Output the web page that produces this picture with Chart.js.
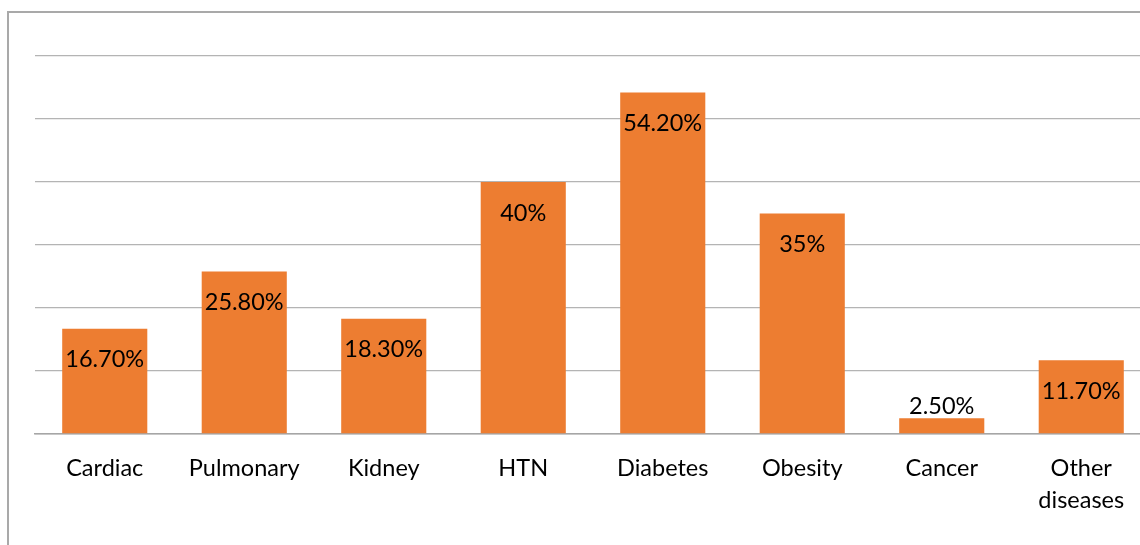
<!DOCTYPE html>
<html>
<head>
<meta charset="utf-8">
<script src="https://cdn.jsdelivr.net/npm/chart.js@4"></script>
<style>
  html, body { margin: 0; padding: 0; background: #fff; overflow: hidden; }
  #wrap { position: relative; width: 1140px; height: 545px; overflow: hidden; }
  #frame { position: absolute; left: 7px; top: 11px; width: 1200px; height: 600px;
           border-left: 2px solid #a9a9a9; border-top: 2px solid #a9a9a9; }
  #box { position: absolute; left: 0; top: 0; width: 1160px; height: 545px; }
</style>
</head>
<body>
<div id="wrap">
  <div id="frame"></div>
  <div id="box"><canvas id="chart"></canvas></div>
</div>
<script>
// Datos del gráfico
const categories = ['Cardiac', 'Pulmonary', 'Kidney', 'HTN', 'Diabetes', 'Obesity', 'Cancer', ['Other', 'diseases']];
const values = [16.7, 25.8, 18.3, 40, 54.2, 35, 2.5, 11.7];
const valueLabels = ['16.70%', '25.80%', '18.30%', '40%', '54.20%', '35%', '2.50%', '11.70%'];
const yTicks = [0, 10, 20, 30, 40, 50, 60];

const fontFamily = 'Lato, "Open Sans", sans-serif';
const fontSize = 23.5;

// Etiquetas de datos dentro de la barra (arriba si la barra es muy corta)
const barLabels = {
    id: 'barLabels',
    afterDatasetsDraw(chart) {
        const c = chart.ctx;
        const meta = chart.getDatasetMeta(0);
        c.save();
        c.font = fontSize + 'px ' + fontFamily;
        c.fillStyle = '#000';
        c.textAlign = 'center';
        c.textBaseline = 'middle';
        meta.data.forEach((bar, i) => {
            const h = bar.base - bar.y;
            const y = h > 45 ? bar.y + 31 : bar.y - 12;
            c.fillText(valueLabels[i], bar.x, y);
        });
        c.restore();
    }
};

const ctx = document.getElementById('chart').getContext('2d');
new Chart(ctx, {
    type: 'bar',
    data: {
        labels: categories,
        datasets: [{
            data: values,
            backgroundColor: '#ED7D31',
            borderWidth: 0,
            barPercentage: 0.61,
            categoryPercentage: 1
        }]
    },
    options: {
        responsive: true,
        maintainAspectRatio: false,
        animation: false,
        layout: { padding: { left: 35, right: 9, top: 56, bottom: 0 } },
        plugins: { legend: { display: false }, tooltip: { enabled: false } },
        scales: {
            x: {
                grid: { display: false },
                border: { display: true, color: '#a6a6a6', width: 1.5 },
                ticks: {
                    color: '#000',
                    font: { family: fontFamily, size: fontSize, lineHeight: 1.37 },
                    padding: 10,
                    maxRotation: 0,
                    autoSkip: false
                },
                afterFit(scale) { scale.height = 111; }
            },
            y: {
                min: yTicks[0],
                max: yTicks[yTicks.length - 1],
                afterBuildTicks(scale) { scale.ticks = yTicks.map(v => ({ value: v })); },
                ticks: { display: false },
                grid: { color: '#b4b4b4', lineWidth: 1.3, drawTicks: false },
                border: { display: false },
                afterFit(scale) { scale.width = 0; }
            }
        }
    },
    plugins: [barLabels]
});
</script>
</body>
</html>
